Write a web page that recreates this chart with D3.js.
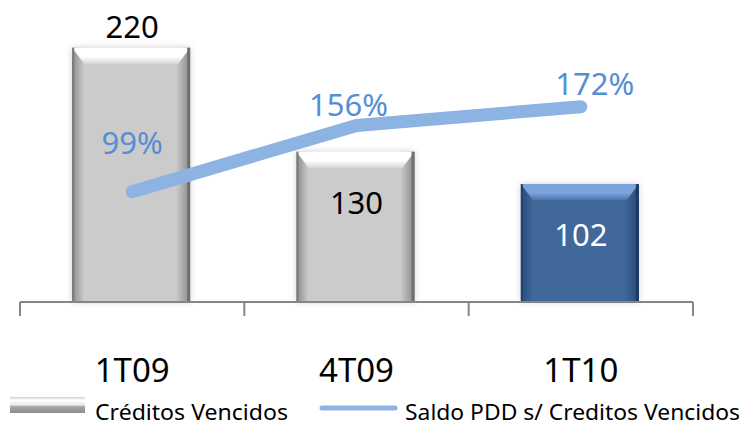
<!DOCTYPE html>
<html>
<head>
<meta charset="utf-8">
<script src="https://cdn.jsdelivr.net/npm/d3@7"></script>
<style>
  body { margin: 0; background: #fff; }
  text { font-family: "Noto Sans", "Open Sans", sans-serif; }
</style>
</head>
<body>
<div id="chart"></div>
<script>
const w = 745;
const h = 425;

const categories = ["1T09", "4T09", "1T10"];
const vencidos = [220, 130, 102];
const saldoPdd = [99, 156, 172];
const seriesNames = ["Créditos Vencidos", "Saldo PDD s/ Creditos Vencidos"];

// label nudges for the percent labels (dx, dy from the point)
const pctOffset = [[0, -38], [-8, -9], [14, -12]];

const svg = d3.select("#chart")
  .append("svg")
  .attr("width", w)
  .attr("height", h);

const defs = svg.append("defs");

function barGradients(id, edge, mid, top, topMid) {
  const g = defs.append("linearGradient").attr("id", id + "-body")
    .attr("x1", 0).attr("x2", 1).attr("y1", 0).attr("y2", 0);
  g.append("stop").attr("offset", "0%").attr("stop-color", edge);
  g.append("stop").attr("offset", "10%").attr("stop-color", mid);
  g.append("stop").attr("offset", "88%").attr("stop-color", mid);
  g.append("stop").attr("offset", "100%").attr("stop-color", edge);
  const t = defs.append("linearGradient").attr("id", id + "-top")
    .attr("x1", 0).attr("x2", 0).attr("y1", 0).attr("y2", 1);
  t.append("stop").attr("offset", "0%").attr("stop-color", top);
  t.append("stop").attr("offset", "55%").attr("stop-color", top);
  t.append("stop").attr("offset", "100%").attr("stop-color", topMid);
}
barGradients("gray", "#8a8a8a", "#cbcbcb", "#ffffff", "#d8d8d8");
barGradients("blue", "#284a76", "#3f689a", "#7ba4dc", "#4a75aa");

const shadow = defs.append("filter").attr("id", "shadow")
  .attr("x", "-20%").attr("y", "-20%").attr("width", "140%").attr("height", "140%");
shadow.append("feDropShadow").attr("dx", 0).attr("dy", 0)
  .attr("stdDeviation", 3).attr("flood-color", "#000").attr("flood-opacity", 0.18);

const xScale = d3.scaleBand()
  .domain(categories)
  .range([20, 693])
  .padding(0);

const yScale = d3.scaleLinear()
  .domain([0, 250])
  .range([302, 13]);

const y2Scale = d3.scaleLinear()
  .domain([0, 250])
  .range([307, 16]);

const barW = 118;

const bars = svg.selectAll("g.bar")
  .data(vencidos)
  .enter()
  .append("g")
  .attr("class", "bar")
  .attr("filter", "url(#shadow)");

bars.each(function(d, i) {
  const g = d3.select(this);
  const kind = i == 2 ? "blue" : "gray";
  const x0 = xScale(categories[i]) + xScale.bandwidth() / 2 - barW / 2 - 1;
  const x1 = x0 + barW;
  const y0 = yScale(d);
  const y1 = yScale(0);
  const b = 16;
  g.append("rect")
    .attr("x", x0).attr("y", y0)
    .attr("width", barW).attr("height", y1 - y0)
    .attr("fill", "url(#" + kind + "-body)");
  g.append("path")
    .attr("d", `M${x0},${y0}L${x1},${y0}L${x1 - 12},${y0 + b}L${x0 + 12},${y0 + b}Z`)
    .attr("fill", "url(#" + kind + "-top)");
  g.append("rect")
    .attr("x", x0).attr("y", y0)
    .attr("width", 2).attr("height", y1 - y0)
    .attr("fill", kind == "blue" ? "#23426b" : "#7a7a7a");
  g.append("rect")
    .attr("x", x1 - 3).attr("y", y0)
    .attr("width", 3).attr("height", y1 - y0)
    .attr("fill", kind == "blue" ? "#1f3b60" : "#6e6e6e");
});

// axis
svg.append("line")
  .attr("x1", xScale.range()[0]).attr("x2", xScale.range()[1])
  .attr("y1", yScale(0)).attr("y2", yScale(0))
  .attr("stroke", "#868686").attr("stroke-width", 2);

const tickXs = categories.map(c => xScale(c)).concat([xScale.range()[1]]);
svg.selectAll("line.tick")
  .data(tickXs)
  .enter()
  .append("line")
  .attr("class", "tick")
  .attr("x1", d => d).attr("x2", d => d)
  .attr("y1", yScale(0)).attr("y2", yScale(0) + 14)
  .attr("stroke", "#868686").attr("stroke-width", 2);

svg.selectAll("text.cat")
  .data(categories)
  .enter()
  .append("text")
  .attr("class", "cat")
  .attr("x", d => xScale(d) + xScale.bandwidth() / 2)
  .attr("y", 382)
  .attr("text-anchor", "middle")
  .attr("font-size", 33)
  .attr("fill", "#000")
  .text(d => d);

// bar value labels
svg.selectAll("text.val")
  .data(vencidos)
  .enter()
  .append("text")
  .attr("class", "val")
  .attr("x", (d, i) => xScale(categories[i]) + xScale.bandwidth() / 2)
  .attr("y", d => d > 200 ? yScale(d) - 10 : yScale(d) + 62)
  .attr("text-anchor", "middle")
  .attr("font-size", 31)
  .attr("fill", (d, i) => i == 2 ? "#fff" : "#000")
  .text(d => d);

// line
const line = d3.line()
  .x((d, i) => xScale(categories[i]) + xScale.bandwidth() / 2)
  .y(d => y2Scale(d));

svg.append("path")
  .datum(saldoPdd)
  .attr("d", line)
  .attr("fill", "none")
  .attr("stroke", "#8db3e2")
  .attr("stroke-width", 13)
  .attr("stroke-linecap", "round")
  .attr("stroke-linejoin", "round");

svg.selectAll("text.pct")
  .data(saldoPdd)
  .enter()
  .append("text")
  .attr("class", "pct")
  .attr("x", (d, i) => xScale(categories[i]) + xScale.bandwidth() / 2 + pctOffset[i][0])
  .attr("y", (d, i) => y2Scale(d) + pctOffset[i][1])
  .attr("text-anchor", "middle")
  .attr("font-size", 31)
  .attr("fill", "#558ed5")
  .text(d => d + "%");

// legend
const leg = svg.append("g");
const legGrad = defs.append("linearGradient").attr("id", "leg-grad")
  .attr("x1", 0).attr("x2", 0).attr("y1", 0).attr("y2", 1);
legGrad.append("stop").attr("offset", "0%").attr("stop-color", "#d0d0d0");
legGrad.append("stop").attr("offset", "20%").attr("stop-color", "#ffffff");
legGrad.append("stop").attr("offset", "50%").attr("stop-color", "#e8e8e8");
legGrad.append("stop").attr("offset", "60%").attr("stop-color", "#a8a8a8");
legGrad.append("stop").attr("offset", "100%").attr("stop-color", "#8c8c8c");

leg.append("rect")
  .attr("x", 10).attr("y", 397)
  .attr("width", 75).attr("height", 16)
  .attr("fill", "url(#leg-grad)");
leg.append("text")
  .attr("x", 95).attr("y", 420)
  .attr("font-size", 22)
  .attr("textLength", 193)
  .attr("lengthAdjust", "spacingAndGlyphs")
  .text(seriesNames[0]);
leg.append("line")
  .attr("x1", 322).attr("x2", 395)
  .attr("y1", 408).attr("y2", 408)
  .attr("stroke", "#8db3e2").attr("stroke-width", 5)
  .attr("stroke-linecap", "round");
leg.append("text")
  .attr("x", 405).attr("y", 420)
  .attr("font-size", 22)
  .attr("textLength", 335)
  .attr("lengthAdjust", "spacingAndGlyphs")
  .text(seriesNames[1]);
</script>
</body>
</html>
